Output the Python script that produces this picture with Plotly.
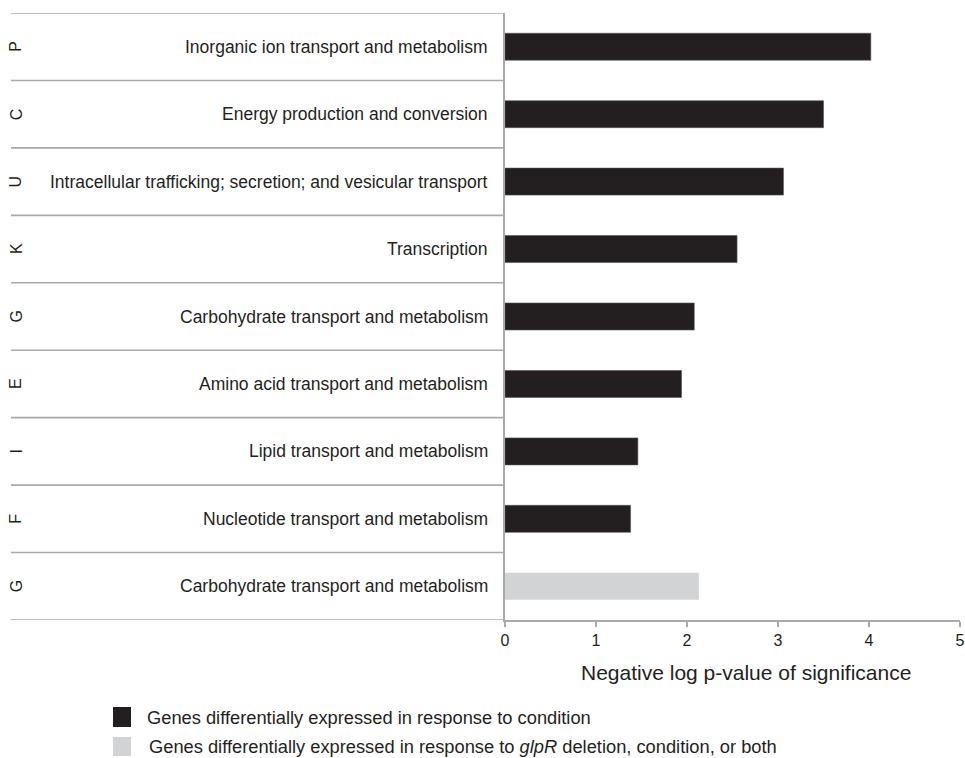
import plotly.graph_objects as go

# COG functional categories (one row each, top to bottom)
cog_letters = ["P", "C", "U", "K", "G", "E", "I", "F", "G"]
cog_names = [
    "Inorganic ion transport and metabolism",
    "Energy production and conversion",
    "Intracellular trafficking; secretion; and vesicular transport",
    "Transcription",
    "Carbohydrate transport and metabolism",
    "Amino acid transport and metabolism",
    "Lipid transport and metabolism",
    "Nucleotide transport and metabolism",
    "Carbohydrate transport and metabolism",
]

# Negative log p-values
condition_rows = [0, 1, 2, 3, 4, 5, 6, 7]
condition_values = [4.02, 3.50, 3.06, 2.55, 2.08, 1.94, 1.46, 1.38]
glpr_rows = [8]
glpr_values = [2.13]

x_ticks = [0, 1, 2, 3, 4, 5]

series_names = [
    "Genes differentially expressed in response to condition",
    "Genes differentially expressed in response to <i>glpR</i> deletion, condition, or both",
]
series_colors = ["#231f20", "#d1d3d4"]

FONT = "Arial, Liberation Sans, sans-serif"
TEXT = "#231f20"
GRID = "#a7a9ac"

# pixel geometry of the plotting area (used to place the table and legend)
W, H = 965, 758
L, R, T, B = 505, 5, 13, 138
PW = W - L - R
PH = H - T - B


def px_to_paper_x(px):
    return (px - L) / PW


def px_to_paper_y(py):
    return (H - B - py) / PH


fig = go.Figure()
fig.add_trace(go.Bar(
    x=condition_values, y=condition_rows, orientation="h", width=0.4,
    marker=dict(color=series_colors[0], line=dict(color="#555555", width=0.6)),
    name=series_names[0], showlegend=False,
))
fig.add_trace(go.Bar(
    x=glpr_values, y=glpr_rows, orientation="h", width=0.4,
    marker=dict(color=series_colors[1], line=dict(width=0)),
    name=series_names[1], showlegend=False,
))

annotations = []
shapes = []
n = len(cog_names)
for i in range(n):
    annotations.append(dict(
        x=px_to_paper_x(490), xref="paper", y=i, yref="y",
        text=cog_names[i], showarrow=False, xanchor="right", yanchor="middle",
        font=dict(family=FONT, size=17.5, color=TEXT),
    ))
    annotations.append(dict(
        x=px_to_paper_x(16), xref="paper", y=i, yref="y",
        text=cog_letters[i], showarrow=False, xanchor="center", yanchor="middle",
        textangle=-90, font=dict(family=FONT, size=16, color=TEXT),
    ))
for k in range(n + 1):
    shapes.append(dict(
        type="line", xref="paper", yref="y",
        x0=px_to_paper_x(11), x1=0, y0=k - 0.5, y1=k - 0.5,
        line=dict(color=GRID, width=1.6),
    ))

# axis title
annotations.append(dict(
    x=px_to_paper_x(746), xref="paper", y=px_to_paper_y(672), yref="paper",
    text="Negative log p-value of significance", showarrow=False,
    xanchor="center", yanchor="middle",
    font=dict(family=FONT, size=21, color=TEXT),
))

# legend: colour swatches with their descriptions
legend_rows = [(707, 727, 145), (737, 756, 147)]
for (top, bot, tx), name, color in zip(legend_rows, series_names, series_colors):
    shapes.append(dict(
        type="rect", xref="paper", yref="paper",
        x0=px_to_paper_x(113), x1=px_to_paper_x(131),
        y0=px_to_paper_y(bot), y1=px_to_paper_y(top),
        fillcolor=color, line=dict(width=0),
    ))
    annotations.append(dict(
        x=px_to_paper_x(tx), xref="paper", y=px_to_paper_y((top + bot) / 2), yref="paper",
        text=name, showarrow=False, xanchor="left", yanchor="middle",
        font=dict(family=FONT, size=18.3, color=TEXT),
    ))

fig.update_layout(
    width=W, height=H,
    margin=dict(l=L, r=R, t=T, b=B, autoexpand=False),
    paper_bgcolor="white", plot_bgcolor="white",
    barmode="overlay",
    showlegend=False,
    xaxis=dict(
        range=[0, 5], tickvals=x_ticks, showgrid=False, zeroline=False,
        showline=True, linecolor=GRID, linewidth=1.6,
        ticks="outside", ticklen=5, tickcolor=GRID, tickwidth=1.6,
        tickfont=dict(family=FONT, size=16, color=TEXT),
        ticklabeloverflow="allow", fixedrange=True,
    ),
    yaxis=dict(
        range=[n - 0.5, -0.5], showticklabels=False, showgrid=False,
        zeroline=False, showline=True, linecolor=GRID, linewidth=1.6,
        ticks="", fixedrange=True,
    ),
    annotations=annotations,
    shapes=shapes,
)

fig.write_html("out.html")
